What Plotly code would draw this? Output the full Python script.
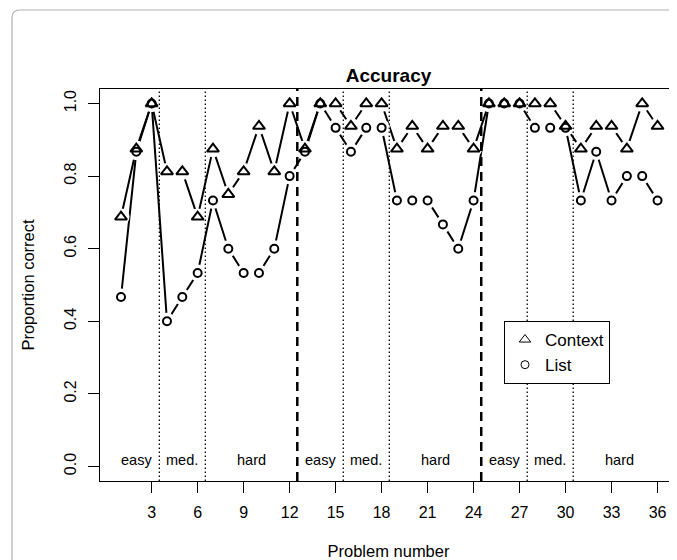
import plotly.graph_objects as go

# ---- data ----
problems = [1, 2, 3, 4, 5, 6, 7, 8, 9, 10, 11, 12,
            13, 14, 15, 16, 17, 18, 19, 20, 21, 22, 23, 24,
            25, 26, 27, 28, 29, 30, 31, 32, 33, 34, 35, 36]
context = [0.6875, 0.875, 1.0, 0.8125, 0.8125, 0.6875, 0.875, 0.75, 0.8125, 0.9375, 0.8125, 1.0,
           0.875, 1.0, 1.0, 0.9375, 1.0, 1.0, 0.875, 0.9375, 0.875, 0.9375, 0.9375, 0.875,
           1.0, 1.0, 1.0, 1.0, 1.0, 0.9375, 0.875, 0.9375, 0.9375, 0.875, 1.0, 0.9375]
list_vals = [0.467, 0.867, 1.0, 0.4, 0.467, 0.533, 0.733, 0.6, 0.533, 0.533, 0.6, 0.8,
             0.867, 1.0, 0.933, 0.867, 0.933, 0.933, 0.733, 0.733, 0.733, 0.667, 0.6, 0.733,
             1.0, 1.0, 1.0, 0.933, 0.933, 0.933, 0.733, 0.867, 0.733, 0.8, 0.8, 0.733]
x_ticks = [3, 6, 9, 12, 15, 18, 21, 24, 27, 30, 33, 36]
y_ticks = [0.0, 0.2, 0.4, 0.6, 0.8, 1.0]
y_tick_text = ["0.0", "0.2", "0.4", "0.6", "0.8", "1.0"]
dotted_x = [3.5, 6.5, 15.5, 18.5, 27.5, 30.5]
dashed_x = [12.5, 24.5]
region_labels = ["easy", "med.", "hard", "easy", "med.", "hard", "easy", "med.", "hard"]
region_pos = [2, 5, 9.5, 14, 17, 21.5, 26, 29, 33.5]

FONT = "Liberation Sans, Arial, Helvetica, sans-serif"
# page body has an 8px margin, so the figure is sized/offset to compensate
OFF = 8
W, H = 677 - OFF, 560 - OFF
ML, MT, MB = 100 - OFF, 89 - OFF, 79
plot_w = W - ML
plot_h = H - MT - MB

fig = go.Figure()

# connecting lines
for yv in (context, list_vals):
    fig.add_trace(go.Scatter(x=problems, y=yv, mode="lines",
                             line=dict(color="black", width=2),
                             showlegend=False, hoverinfo="skip"))
# white masks to create gaps around points (R type = "b")
for yv in (context, list_vals):
    fig.add_trace(go.Scatter(x=problems, y=yv, mode="markers",
                             marker=dict(symbol="circle", size=17, color="white",
                                         line=dict(width=0)),
                             showlegend=False, hoverinfo="skip"))
# symbols
fig.add_trace(go.Scatter(x=problems, y=context, mode="markers", name="Context",
                         marker=dict(symbol="triangle-up-open", size=10.5, color="black",
                                     line=dict(color="black", width=2)),
                         showlegend=False))
fig.add_trace(go.Scatter(x=problems, y=list_vals, mode="markers", name="List",
                         marker=dict(symbol="circle-open", size=8, color="black",
                                     line=dict(color="black", width=2)),
                         showlegend=False))
# legend entries
fig.add_trace(go.Scatter(x=[None], y=[None], mode="markers", name="Context",
                         marker=dict(symbol="triangle-up-open", size=10, color="black",
                                     line=dict(color="black", width=1))))
fig.add_trace(go.Scatter(x=[None], y=[None], mode="markers", name="List",
                         marker=dict(symbol="circle-open", size=8, color="black",
                                     line=dict(color="black", width=1))))

shapes = []
for xv in dotted_x:
    shapes.append(dict(type="line", xref="x", yref="paper", x0=xv, x1=xv, y0=0, y1=1,
                       line=dict(color="black", width=1.3, dash="1.5px,2.5px"), layer="above"))
for xv in dashed_x:
    shapes.append(dict(type="line", xref="x", yref="paper", x0=xv, x1=xv, y0=0, y1=1,
                       line=dict(color="black", width=2.5, dash="9px,6px"), layer="above"))

# outer rounded frame (figure border, extends beyond view on right/bottom)
fx = (12 - OFF - ML) / plot_w
fy = (H - MB - (10 - OFF)) / plot_h
rx = 8 / plot_w
ry = 8 / plot_h
path = (f"M {fx},{-0.5} L {fx},{fy - ry} Q {fx},{fy} {fx + rx},{fy} L {1.2},{fy}")
shapes.append(dict(type="path", xref="paper", yref="paper", path=path,
                   line=dict(color="#b0b0b0", width=1.2), layer="below"))

annotations = []
for txt, xv in zip(region_labels, region_pos):
    annotations.append(dict(x=xv, y=0.018, xref="x", yref="y", text=txt, showarrow=False,
                            xanchor="center", yanchor="middle",
                            font=dict(family=FONT, size=14.5, color="black")))

fig.update_layout(
    width=W, height=H,
    margin=dict(l=ML, r=0, t=MT, b=MB),
    paper_bgcolor="white", plot_bgcolor="white",
    font=dict(family=FONT, color="black"),
    title=dict(text="<b>Accuracy</b>", x=0.5, xref="paper", xanchor="center",
               y=1 - (75 - OFF) / H, yref="container", yanchor="middle",
               font=dict(family=FONT, size=19, color="black")),
    xaxis=dict(range=[-0.37, 37.27], tickvals=x_ticks, ticks="outside", ticklen=11,
               tickwidth=1, tickcolor="black", showline=True, linecolor="black",
               linewidth=1, mirror=True, showgrid=False, zeroline=False,
               tickfont=dict(family=FONT, size=16), ticklabelstandoff=6,
               title=dict(text="Problem number", font=dict(family=FONT, size=16.5),
                          standoff=25)),
    yaxis=dict(range=[-0.04, 1.04], tickvals=y_ticks, ticktext=y_tick_text,
               ticks="outside", ticklen=11, tickwidth=1, tickcolor="black",
               showline=True, linecolor="black", linewidth=1, showgrid=False,
               zeroline=False, tickangle=-90, tickfont=dict(family=FONT, size=16),
               ticklabelstandoff=6,
               title=dict(text="Proportion correct", font=dict(family=FONT, size=16.5),
                          standoff=22)),
    legend=dict(x=(504 - 100) / plot_w, y=(H - MB - (321 - OFF)) / plot_h,
                xanchor="left", yanchor="top", bordercolor="black", borderwidth=1,
                bgcolor="white", font=dict(family=FONT, size=17, color="black")),
    shapes=shapes,
    annotations=annotations,
)

fig.write_html("out.html")
